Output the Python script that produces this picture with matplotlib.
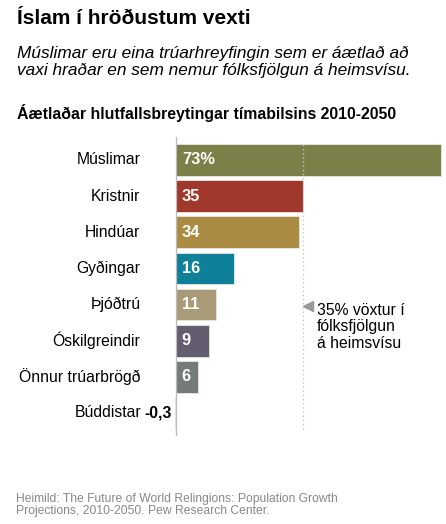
import matplotlib
matplotlib.use('Agg')
import matplotlib.pyplot as plt

plt.rcParams['font.family'] = ['Liberation Sans', 'DejaVu Sans']

groups = ['Múslimar', 'Kristnir', 'Hindúar', 'Gyðingar', 'Þjóðtrú',
          'Óskilgreindir', 'Önnur trúarbrögð', 'Búddistar']
growth = [73, 35, 34, 16, 11, 9, 6, -0.3]
value_labels = ['73%', '35', '34', '16', '11', '9', '6', '-0,3']
colors = ['#7b8049', '#a1382c', '#ab8b42', '#0e809a', '#a99b78',
          '#635d6f', '#747b78', '#d9c7a8']
world_growth = 35

W, H = 446, 524
fig = plt.figure(figsize=(W / 100, H / 100), dpi=100)

# axes placed in pixel coordinates: x=0 at 176px, x=73 at 441px
x0, x1 = 176, 441
ytop, ybot = 140, 432
ax = fig.add_axes([x0 / W, 1 - ybot / H, (x1 - x0) / W, (ybot - ytop) / H])
ax.set_xlim(0, 73)
ax.set_ylim(7.526, -0.553)
ax.axis('off')

ypos = list(range(len(groups)))
ax.barh(ypos, growth, height=0.88, color=colors, edgecolor='#e8e8e0',
        linewidth=0.6, clip_on=False, zorder=2)

ax.axvline(0, color='#bbbbbb', linewidth=0.9, ymin=-0.01, ymax=1.01, clip_on=False, zorder=3)
# dotted reference line for world growth, drawn over the bars
ax.axvline(world_growth, color='#c4c4c4', linewidth=1.0, linestyle=(0, (1, 2)),
           ymin=0.01, ymax=0.99, zorder=3)

for y, g, v in zip(ypos, groups, value_labels):
    if v.startswith('-'):
        ax.text(-1.1, y, v, ha='right', va='center', fontsize=11.3, fontweight='bold')
        ax.text(-9.6, y, g, ha='right', va='center', fontsize=11.3)
    else:
        ax.text(1.6, y, v, ha='left', va='center', fontsize=11.8,
                fontweight='bold', color='white', zorder=4)
        ax.text(-9.8, y, g, ha='right', va='center', fontsize=11.3)

# annotation for world population growth
ax.plot([world_growth + 1.3], [4.03], marker='<', color='#999999', markersize=6.5,
        clip_on=False)
ax.text(world_growth + 3.8, 4.62, '35% vöxtur í\nfólksfjölgun\ná heimsvísu',
        ha='left', va='center', fontsize=11.3, linespacing=1.12)

fig.text(17 / W, 1 - 18 / H, 'Íslam í hröðustum vexti', ha='left', va='center',
         fontsize=15, fontweight='bold')
fig.text(17 / W, 1 - 62 / H,
         'Múslimar eru eina trúarhreyfingin sem er áætlað að\n'
         'vaxi hraðar en sem nemur fólksfjölgun á heimsvísu.',
         ha='left', va='center', fontsize=12.4, style='italic', linespacing=1.1)
fig.text(17 / W, 1 - 113 / H, 'Áætlaðar hlutfallsbreytingar tímabilsins 2010-2050',
         ha='left', va='center', fontsize=11.4, fontweight='bold')
fig.text(16 / W, 1 - 505 / H,
         'Heimild: The Future of World Relingions: Population Growth\n'
         'Projections, 2010-2050. Pew Research Center.',
         ha='left', va='center', fontsize=8.7, color='#888888', linespacing=1.08)

fig.savefig('out.png', dpi=100, facecolor='white')
